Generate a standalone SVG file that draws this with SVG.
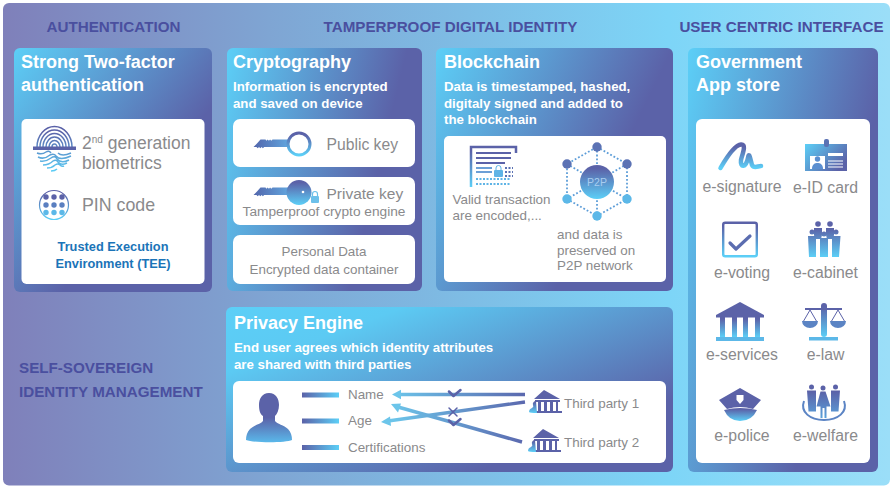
<svg xmlns="http://www.w3.org/2000/svg" width="890" height="487" viewBox="0 0 890 487">
<style>
text{font-family:"Liberation Sans",Arial,sans-serif}
.h{font-weight:700;font-size:15.2px;fill:#4a4f9f}
.t{font-weight:700;font-size:18px;fill:#fff}
.s{font-weight:700;font-size:13.250px;fill:#fff}
.g{font-size:15.800px;fill:#8a8a8c}
.m{font-size:13.400px;fill:#8a8a8c}
.c{text-anchor:middle}
.w{fill:#fff}
.a{fill:none;stroke:url(#a1);stroke-width:3.4}
.k{fill:none;stroke:#5b62a8;stroke-width:2.500;stroke-linecap:round;stroke-linejoin:round}
</style>
<defs>
<linearGradient id="bg" x1="0" x2="1" y1="0" y2="0"><stop offset="0" stop-color="#7f80ba"/><stop offset=".3" stop-color="#7fa5d3"/><stop offset=".75" stop-color="#7dd5f7"/><stop offset="1" stop-color="#9bdef8"/></linearGradient>
<linearGradient id="pa" x1="0" y1="0" x2="1" y2="1"><stop offset="0" stop-color="#5ccff7"/><stop offset=".62" stop-color="#5b62a8"/></linearGradient>
<linearGradient id="pc" x1="0" y1="0" x2="1" y2=".3"><stop offset="0" stop-color="#5ccff7"/><stop offset=".85" stop-color="#5b62a8"/></linearGradient>
<linearGradient id="pb" x1="0" y1="0" x2="1" y2=".5"><stop offset="0" stop-color="#5ccff7"/><stop offset=".8" stop-color="#5b62a8"/></linearGradient>
<linearGradient id="pp" x1="0" y1="0" x2="1" y2="1"><stop offset="0" stop-color="#5ccff7"/><stop offset=".2" stop-color="#5ccaf3"/><stop offset=".78" stop-color="#5b62a8"/></linearGradient>
<linearGradient id="pg" x1="0" y1="0" x2="1" y2=".5"><stop offset="0" stop-color="#5ccff7"/><stop offset=".85" stop-color="#5b62a8"/></linearGradient>
<linearGradient id="v" x1="0" y1="0" x2="0" y2="1"><stop offset=".1" stop-color="#5b62a8"/><stop offset="1" stop-color="#5ccff7"/></linearGradient>
<linearGradient id="vp" x1="0" y1="0" x2="0" y2="1"><stop offset=".5" stop-color="#5b62a8"/><stop offset="1" stop-color="#5ab8ea"/></linearGradient>
<linearGradient id="hb" x1="0" y1="0" x2="1" y2="0"><stop offset="0" stop-color="#5b62a8"/><stop offset="1" stop-color="#5ccff7"/></linearGradient>
<linearGradient id="ks" x1="0" y1="0" x2="1" y2="0"><stop offset="0" stop-color="#5266ac"/><stop offset="1" stop-color="#62a8e0"/></linearGradient>
<linearGradient id="hr" x1="0" y1="0" x2="1" y2=".6"><stop offset="0" stop-color="#5ccff7"/><stop offset="1" stop-color="#5b62a8"/></linearGradient>
<linearGradient id="fp" gradientUnits="userSpaceOnUse" x1="0" y1="127" x2="0" y2="172"><stop offset=".1" stop-color="#5b62a8"/><stop offset="1" stop-color="#5ccff7"/></linearGradient>
<linearGradient id="gc" gradientUnits="userSpaceOnUse" x1="0" y1="221" x2="0" y2="257"><stop offset=".2" stop-color="#5b62a8"/><stop offset="1" stop-color="#5ccff7"/></linearGradient>
<linearGradient id="gw" gradientUnits="userSpaceOnUse" x1="0" y1="384" x2="0" y2="421"><stop offset=".2" stop-color="#5b62a8"/><stop offset="1" stop-color="#5aa8e0"/></linearGradient>
<linearGradient id="a1" gradientUnits="userSpaceOnUse" x1="393" y1="0" x2="525" y2="0"><stop offset="0" stop-color="#6cc5ea"/><stop offset="1" stop-color="#5b68ae"/></linearGradient>
<g id="bank"><path d="M15 0 L31 9 H5 Z M6 10 H31 V12 H6 Z M9 12 h3 v9 h-3 Z M15 12 h3 v9 h-3 Z M21 12 h3 v9 h-3 Z M27 12 h2 v9 h-2 Z M5 21 H33 V23 H5 Z" fill="#5b62a8"/><path d="M7 11 a3 3 0 0 0-3 4 q1 2 -1 3 q-3 1 -3 4 q1 1 8 1 Z" fill="url(#v)"/></g>
</defs>
<rect x="3" y="3" width="887" height="482.500" rx="6" fill="url(#bg)"/>
<text class="h c" x="113.500" y="32">AUTHENTICATION</text>
<text class="h c" x="450.500" y="32">TAMPERPROOF DIGITAL IDENTITY</text>
<text class="h c" x="781.500" y="32">USER CENTRIC INTERFACE</text>
<text class="h" x="19" y="373">SELF-SOVEREIGN</text>
<text class="h" x="19" y="397">IDENTITY MANAGEMENT</text>

<g id="authentication">
<rect x="14" y="48" width="198" height="244" rx="6" fill="url(#pa)"/>
<text class="t" x="21" y="68">Strong Two-factor</text>
<text class="t" x="21" y="91">authentication</text>
<rect class="w" x="21.500" y="119" width="183" height="165" rx="5"/>
<g fill="none" stroke="url(#fp)" stroke-width="1.500">
<path d="M37 147a17 20 0 0 1 35 0M40 147a14 16.500 0 0 1 29 0M43 147a11 13 0 0 1 23 0M46 147a8.500 10 0 0 1 17 0M49 147a5.500 6.500 0 0 1 11 0M52 147a2.500 3 0 0 1 5 0"/>
<path d="M37 153q5 2 9-1q3-2 5 1M38 157q6 3 12-2q4-2 6 1q4 5 15 0M40 161q6 1 11-3q4-3 6 1q4 5 12 1M43 165q6 0 10-4q3-2 5 1q3 4 9 1M47 168q5 0 8-3q3-2 5 0q2 2 4 1M51 171q4 0 6-2M58 153q4 4 13 0"/>
</g>
<rect x="33" y="146.500" width="43" height="3.500" fill="#5b62a8"/>
<text x="82" y="149" font-size="17.500" fill="#8a8a8c">2<tspan font-size="10" dy="-6">nd</tspan><tspan dy="6"> generation</tspan></text>
<text x="82" y="169" font-size="17.500" fill="#8a8a8c">biometrics</text>
<circle cx="54" cy="205" r="14.500" fill="none" stroke="url(#v)" stroke-width="1.200"/>
<g fill="#5b62a8"><circle cx="46" cy="197" r="2.700"/><circle cx="54" cy="197" r="2.700"/><circle cx="62" cy="197" r="2.700"/></g>
<g fill="#5a7fc0"><circle cx="46" cy="205" r="2.700"/><circle cx="54" cy="205" r="2.700"/><circle cx="62" cy="205" r="2.700"/></g>
<g fill="#5cb8e8"><circle cx="46" cy="212.500" r="2.700"/><circle cx="54" cy="212.500" r="2.700"/><circle cx="62" cy="212.500" r="2.700"/></g>
<text x="82" y="211" font-size="17.800" fill="#8a8a8c">PIN code</text>
<text x="113" y="251" class="c" font-size="12.800" font-weight="700" fill="#1b74b8">Trusted Execution</text>
<text x="113" y="268" class="c" font-size="12.800" font-weight="700" fill="#1b74b8">Environment (TEE)</text>
</g>

<g id="cryptography">
<rect x="227" y="48" width="195" height="243" rx="6" fill="url(#pc)"/>
<text class="t" x="233" y="68">Cryptography</text>
<text class="s" x="233" y="91">Information is encrypted</text>
<text class="s" x="233" y="108">and saved on device</text>
<rect class="w" x="233" y="119" width="182" height="48" rx="7"/>
<rect class="w" x="233" y="177" width="182" height="48" rx="7"/>
<rect class="w" x="233" y="235" width="182" height="49" rx="7"/>
<path d="M257 143.500l3.500-4h5l1 1.300 1.200-1.300 1.200 1.300 1.200-1.300 1.200 1.300 1.200-1.300h17.700v7.500h-26l-1.300 1.200-1.300-1.200-1.300 1.200-1.300-1.200-1.300 1.200-1.200-1.200h-3Z" fill="url(#ks)"/>
<circle cx="299" cy="144" r="11" fill="#fff" stroke="url(#v)" stroke-width="3"/>
<text x="326.500" y="150" font-size="15.700" fill="#8a8a8c">Public key</text>
<path d="M257 191.500l3.500-4h5l1 1.300 1.200-1.300 1.200 1.300 1.200-1.300 1.200 1.300 1.200-1.300h17.700v7.500h-26l-1.300 1.200-1.300-1.200-1.300 1.200-1.300-1.200-1.300 1.200-1.200-1.200h-3Z" fill="url(#ks)"/>
<circle cx="299" cy="192.500" r="12.500" fill="url(#v)"/><circle cx="303" cy="192" r="1.300" fill="#fff"/>
<path d="M312.500 196v-2a2.500 2.500 0 0 1 5 0v2" fill="none" stroke="#6cc0ea" stroke-width="1.200"/><rect x="311" y="196" width="8" height="7" rx="1" fill="#6cc0ea"/>
<text x="326.500" y="199" font-size="15.500" fill="#8a8a8c">Private key</text>
<text x="324" y="216" class="c" font-size="13.700" fill="#8a8a8c">Tamperproof crypto engine</text>
<text x="324" y="256" class="c" font-size="13.400" fill="#8a8a8c">Personal Data</text>
<text x="324" y="274" class="c" font-size="13.400" fill="#8a8a8c">Encrypted data container</text>
</g>

<g id="blockchain">
<rect x="436" y="48" width="237" height="243" rx="6" fill="url(#pb)"/>
<text class="t" x="444" y="68">Blockchain</text>
<text class="s" x="444" y="91">Data is timestamped, hashed,</text>
<text class="s" x="444" y="108">digitaly signed and added to</text>
<text class="s" x="444" y="124">the blockchain</text>
<rect class="w" x="444" y="136" width="222" height="146" rx="5"/>
<path d="M471 187V147H516V153" fill="none" stroke="url(#v)" stroke-width="2.500"/>
<g fill="#5b62a8"><rect x="476" y="152" width="35" height="2"/><rect x="476" y="157" width="35" height="2"/><rect x="476" y="162" width="29" height="2"/></g>
<g fill="#6c9fd6"><rect x="476" y="167" width="16" height="2"/><rect x="476" y="171" width="16" height="2"/></g>
<rect x="494" y="170" width="9" height="7" rx="1" fill="#5fb4e6"/><path d="M496 170v-2a2.500 2.500 0 0 1 5 0v2" fill="none" stroke="#5fb4e6" stroke-width="1"/>
<path d="M505 168h8M505 172h8M505 176h8" stroke="#5b72b4" stroke-width="1.800" stroke-dasharray="2 1.500"/>
<path d="M476 179h35M476 184h35" stroke="#5fb4e6" stroke-width="1.800" stroke-dasharray="2 1.500"/>
<text x="452.500" y="204" class="m">Valid transaction</text>
<text x="452.500" y="220" class="m">are encoded,...</text>
<g stroke="#5d9dd8" stroke-width="1.800" stroke-dasharray="1.800 2" fill="none">
<path d="M597 147L627 164V199L597 216L567 199V164Z"/>
<path d="M597 147V216M567 164L627 199M627 164L567 199"/>
</g>
<circle cx="597" cy="182" r="17" fill="url(#v)"/>
<text x="597" y="186" class="c" font-size="10.500" fill="#a8cdf0">P2P</text>
<g fill="#5b72b4"><circle cx="597" cy="147" r="4.700"/><circle cx="627" cy="164" r="4.700"/><circle cx="567" cy="164" r="4.700"/></g>
<g fill="#5cb8e8"><circle cx="627" cy="199" r="4.700"/><circle cx="567" cy="199" r="4.700"/><circle cx="597" cy="216" r="4.700"/></g>
<text x="557" y="239" class="m">and data is</text>
<text x="557" y="255" class="m">preserved on</text>
<text x="557" y="270" class="m">P2P network</text>
</g>

<g id="privacy-engine">
<rect x="226" y="307" width="447" height="165" rx="6" fill="url(#pp)"/>
<text class="t" x="234" y="329">Privacy Engine</text>
<text class="s" x="234" y="352">End user agrees which identity attributes</text>
<text class="s" x="234" y="369">are shared with third parties</text>
<rect class="w" x="233" y="381" width="433" height="82" rx="6"/>
<path d="M269 393c7 0 10 6 10 12c0 5-2 9-4 11v5c2 3 9 4 13 8c3 3 4 7 4 11c-6 3-38 3-46 0c0-4 1-8 4-11c4-4 11-5 13-8v-5c-3-2-4-6-4-11c0-6 3-12 10-12Z" fill="url(#vp)"/>
<g fill="url(#hb)"><rect x="302" y="392.500" width="37" height="5"/><rect x="302" y="418.500" width="37" height="5"/><rect x="302" y="445" width="37" height="5"/></g>
<text x="348" y="399" class="m">Name</text>
<text x="348" y="425" class="m">Age</text>
<text x="348" y="452" class="m">Certifications</text>
<use href="#bank" x="529" y="390"/>
<use href="#bank" x="528" y="429"/>
<text x="564" y="408" class="m">Third party 1</text>
<text x="564" y="447" class="m">Third party 2</text>
</g>

<g id="connectors">
<path class="a" d="M399 394.500H525"/>
<path d="M392 394.500l9-4.700v9.400Z" fill="#6cc5ea"/>
<path class="a" d="M398 407L522 442"/>
<path d="M391 404l10 -.500-3 9Z" fill="#6cc5ea"/>
<path class="a" d="M388 421L525 402"/>
<path d="M381 422l9-5.500 1 9.500Z" fill="#6cc5ea"/>
<path class="k" d="M449 391.500l4.500 4.500 7-6"/>
<path class="k" d="M449 420.500l4.500 4.500 7-6"/>
<path class="k" style="stroke-width:1.500" d="M449 408l8 8M457 408l-8 8"/>
</g>

<g id="government-app-store">
<rect x="688" y="48" width="190" height="424" rx="6" fill="url(#pg)"/>
<text class="t" x="696" y="68">Government</text>
<text class="t" x="696" y="91">App store</text>
<rect class="w" x="696" y="119" width="174" height="344" rx="6"/>
<path d="M720.500 168C728 155 735 145 741 144.500C747 144 742 155 741 160C740 168 746 168 748 158C749 150 751 162 752 165C754 169 758 166 761 166" fill="none" stroke="url(#v)" stroke-width="4.500" stroke-linecap="round" stroke-linejoin="round"/>
<rect x="805" y="144" width="42" height="27" fill="url(#hr)"/><rect x="824" y="139" width="5" height="8" rx="2" fill="#5b72b4"/>
<rect x="810" y="156" width="15" height="13" fill="#fff"/><circle cx="817.500" cy="159" r="2.700" fill="#5b8fd0"/><path d="M812 169c0-5 3-6 5.500-6s5.500 1 5.500 6Z" fill="#5b8fd0"/>
<path d="M828 153h15v3h-15zM828 160.500h15v1h-15zM828 163.500h15v1h-15zM828 166.500h15v1h-15z" fill="#fff"/>
<text x="742" y="192" class="g c">e-signature</text>
<text x="825.500" y="192.500" class="g c">e-ID card</text>
<rect x="723.200" y="222.700" width="33.600" height="33.600" rx="2" fill="none" stroke="url(#v)" stroke-width="2.400"/>
<path d="M730 243l6 6 14-13" fill="none" stroke="#5b6db0" stroke-width="3.200" stroke-linecap="round" stroke-linejoin="round"/>
<g fill="url(#gc)"><circle cx="818" cy="224" r="2.800"/><circle cx="830" cy="224" r="2.800"/><circle cx="812" cy="232" r="2.500"/><circle cx="824" cy="234" r="2.500"/><circle cx="836" cy="232" r="2.500"/>
<path d="M814 228h8v7l-1 4h-6l-1-4ZM826 228h8v7l-1 4h-6l-1-4Z"/><path d="M808 236h8v21h-7ZM820 238h8v19h-8ZM832 236h8.500l-1.500 21h-7Z"/></g>
<text x="742" y="278" class="g c">e-voting</text>
<text x="825.500" y="278" class="g c">e-cabinet</text>
<path d="M740 302L764 315H716Z" fill="#5b62a8"/><rect x="716" y="315" width="48" height="2.500" fill="#5b62a8"/>
<g fill="url(#v)"><rect x="720" y="317" width="5" height="20"/><rect x="732" y="317" width="5" height="20"/><rect x="743" y="317" width="5" height="20"/><rect x="755" y="317" width="5" height="20"/></g>
<rect x="716" y="337" width="48" height="4" fill="#5cb8e8"/>
<rect x="821" y="303" width="6" height="34" rx="3" fill="url(#v)"/>
<rect x="805" y="308" width="37" height="2" fill="#5b62a8"/>
<rect x="809" y="337" width="29" height="3.500" fill="#5cb8e8"/>
<path d="M810 310L803 322M810 310L817 322M838 310L831 322M838 310L845 322" stroke="#5b62a8" stroke-width="1" fill="none"/>
<path d="M802 321h16a8 7 0 0 1-16 0ZM830 321h16a8 7 0 0 1-16 0Z" fill="#5b84c4"/>
<text x="742" y="359.500" class="g c">e-services</text>
<text x="825.500" y="359.500" class="g c">e-law</text>
<path d="M740 388L761 400L753 409Q740 405 727 409L719 400Z" fill="#5b62a8"/><path d="M736.500 395h7v5l-3.500 4-3.500-4Z" fill="#fff"/>
<path d="M724 410Q740 406 757 410Q752 421 740 421Q729 421 724 410Z" fill="url(#v)"/>
<g fill="url(#gw)"><circle cx="811.500" cy="387" r="2.500"/><circle cx="823" cy="388" r="2.500"/><circle cx="835.500" cy="387" r="2.500"/>
<path d="M807 390.500h9v21h-7.500ZM831 390.500h9l-1.500 21h-7.500ZM820.500 391.500h5l5 15h-4v11.500h-2v-10h-2v10h-2v-11.500h-4Z"/></g>
<path d="M804 401C800 412 810 420 824 420C838 420 848 412 844 401" fill="none" stroke="#5b84c4" stroke-width="2"/>
<text x="742" y="440.500" class="g c">e-police</text>
<text x="825.500" y="440.500" class="g c">e-welfare</text>
</g>
</svg>
